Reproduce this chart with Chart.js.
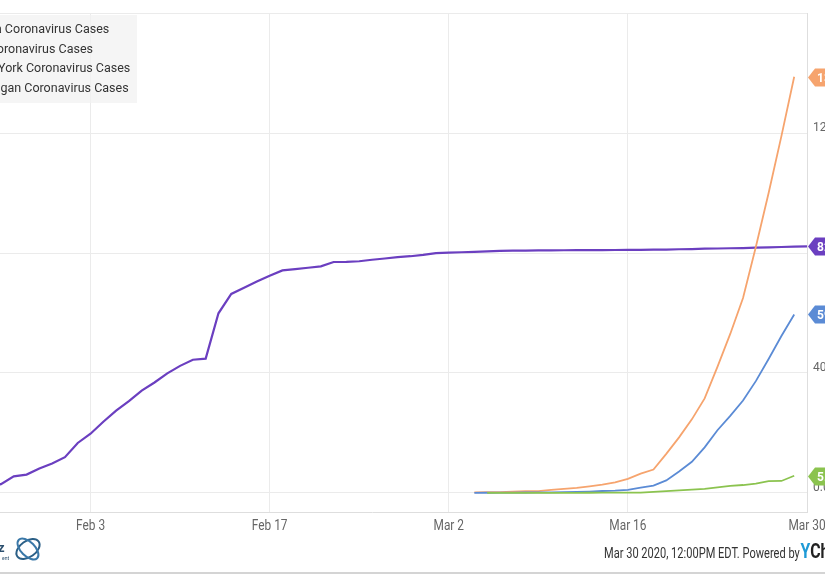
<!DOCTYPE html>
<html>
<head>
<meta charset="utf-8">
<script src="https://cdn.jsdelivr.net/npm/chart.js@4/dist/chart.umd.min.js"></script>
<style>
  html, body { margin: 0; padding: 0; background: #fff; }
  body { width: 825px; height: 575px; overflow: hidden; position: relative; font-family: Roboto, "Noto Sans", sans-serif; }
  #wrap { position: absolute; left: -73px; top: 0; width: 973px; height: 575px; }
  #legend { position: absolute; left: -45px; top: 15px; width: 182px; height: 88px; box-sizing: border-box;
    padding: 4px 0 0 15px; background: rgba(242,242,242,0.75); font-size: 12.5px; color: #333; }
  #legend div { height: 19.7px; line-height: 19.7px; white-space: nowrap; }
  #footer { position: absolute; left: 604px; top: 539px; font-family: Roboto, sans-serif;
    font-size: 14px; color: #333; white-space: nowrap; transform: scaleX(0.79); transform-origin: 0 0; }
  #footer .y { color: #1e9ad6; font-weight: bold; font-size: 20px; margin-left: 1px; }
  #footer .c { color: #222; font-weight: bold; font-size: 20px; }
  #bottomline { position: absolute; left: 0; top: 572px; width: 825px; height: 2px; background: #d4d4d4; }
  #logo { position: absolute; left: 0; top: 533px; }
</style>
</head>
<body>
<div id="wrap"><canvas id="casesChart"></canvas></div>
<div id="legend"></div>
<svg id="logo" width="50" height="34">
  <text x="-2" y="19" font-family="Roboto" font-size="13" font-weight="bold" fill="#2b4f6e">z</text>
  <text x="2" y="27" font-family="Roboto" font-size="5" fill="#2b4f6e">ent</text>
  <ellipse cx="28" cy="16" rx="13" ry="8" transform="rotate(-35 28 16)" fill="none" stroke="#2b5f86" stroke-width="2"/>
  <ellipse cx="28" cy="16" rx="13" ry="7" transform="rotate(45 28 16)" fill="none" stroke="#3a78a8" stroke-width="2"/>
</svg>
<div id="footer">Mar 30 2020, 12:00PM EDT. Powered by<span class="y">Y</span><span class="c">Charts</span></div>
<div id="bottomline"></div>
<script>
// dates on the x axis, Jan 22 to Mar 30 2020
const monthNames = ["Jan", "Feb", "Mar"];
const dates = [];
for (let d = new Date(2020, 0, 22); d <= new Date(2020, 2, 30); d.setDate(d.getDate() + 1)) {
  dates.push(monthNames[d.getMonth()] + " " + d.getDate());
}
const tickDates = ["Feb 3", "Feb 17", "Mar 2", "Mar 16", "Mar 30"];
const yTicks = [0, 40000, 80000, 120000, 160000];

const seriesNames = ["China Coronavirus Cases", "US Coronavirus Cases", "New York Coronavirus Cases", "Michigan Coronavirus Cases"];
const seriesColors = ["#6b3fc0", "#f6a46e", "#5b8bd5", "#8bc34f"];

// Jan 22 .. Mar 30
const chinaCases = [548, 643, 920, 1406, 2075, 2877, 5509, 6087, 8141, 9802,
  11891, 16630, 19716, 23707, 27440, 30587, 34110, 36814, 39829, 42354, 44386, 44759, 59895, 66358,
  68413, 70513, 72434, 74211, 74619, 75077, 75550, 77001, 77022, 77241, 77754, 78166, 78600, 78928, 79356,
  79932, 80136, 80261, 80386, 80537, 80690, 80770, 80823, 80860, 80887, 80921, 80932, 80945, 80977, 81003,
  81033, 81058, 81102, 81156, 81250, 81305, 81435, 81498, 81591, 81661, 81782, 81897, 81999, 82122, 82198];
// Mar 4 .. Mar 29
const usStart = "Mar 4";
const usCases = [149, 217, 262, 402, 518, 583, 959, 1281, 1663, 2179, 2726, 3499, 4632, 6421, 7783,
  13000, 18500, 24500, 31500, 42000, 53000, 65000, 82000, 100000, 119000, 138800];
// Mar 4 .. Mar 29
const nyStart = "Mar 4";
const nyCases = [11, 22, 44, 89, 106, 142, 173, 217, 326, 421, 610, 732, 950, 1700, 2382, 4152, 7102,
  10356, 15168, 20875, 25665, 30811, 37258, 44635, 52318, 59513];
// Mar 5 .. Mar 29
const miStart = "Mar 5";
const miCases = [0, 0, 0, 0, 0, 2, 2, 12, 25, 33, 53, 65, 83, 334, 549, 788, 1035, 1329, 1793, 2295,
  2600, 3100, 3900, 3950, 5700];

function pad(start, vals) {
  const s = dates.indexOf(start);
  return dates.map((d, i) => (i >= s && i - s < vals.length ? vals[i - s] : null));
}

const seriesData = [pad("Jan 22", chinaCases), pad(usStart, usCases), pad(nyStart, nyCases), pad(miStart, miCases)];

document.getElementById("legend").innerHTML = seriesNames.map((n) => "<div>" + n + "</div>").join("");

function fmtK(v) {
  if (v === 0) return "0.00";
  return (v / 1000).toFixed(2) + "K";
}

// narrow date labels under the x axis
const dateLabels = {
  id: "dateLabels",
  afterDraw(chart) {
    const ctx = chart.ctx;
    const xScale = chart.scales.x;
    ctx.save();
    ctx.fillStyle = "#666";
    ctx.font = "14px Roboto";
    ctx.textAlign = "center";
    ctx.textBaseline = "middle";
    tickDates.forEach((lab) => {
      const x = xScale.getPixelForValue(dates.indexOf(lab));
      ctx.save();
      ctx.translate(x, chart.chartArea.bottom + 14);
      ctx.scale(0.85, 1);
      ctx.fillText(lab, 0, 0);
      ctx.restore();
    });
    ctx.restore();
  }
};

// end value tags on the right axis
const endTags = {
  id: "endTags",
  afterDraw(chart) {
    const ctx = chart.ctx;
    const yScale = chart.scales.y;
    const x0 = chart.chartArea.right + 1;
    chart.data.datasets.forEach((ds) => {
      let last = null;
      ds.data.forEach((v) => { if (v !== null) last = v; });
      if (last === null) return;
      const y = Math.round(yScale.getPixelForValue(last)) + 0.5;
      ctx.save();
      ctx.fillStyle = ds.borderColor;
      ctx.beginPath();
      ctx.moveTo(x0, y);
      ctx.lineTo(x0 + 7, y - 9);
      ctx.lineTo(x0 + 62, y - 9);
      ctx.lineTo(x0 + 62, y + 9);
      ctx.lineTo(x0 + 7, y + 9);
      ctx.closePath();
      ctx.fill();
      ctx.fillStyle = "#fff";
      ctx.font = "bold 12px Roboto";
      ctx.textBaseline = "middle";
      ctx.fillText(fmtK(last), x0 + 9, y + 1);
      ctx.restore();
    });
  }
};

const ctx = document.getElementById("casesChart").getContext("2d");
const casesChart = new Chart(ctx, {
  type: "line",
  data: {
    labels: dates,
    datasets: seriesNames.map((name, i) => ({
      label: name,
      data: seriesData[i],
      borderColor: seriesColors[i],
      backgroundColor: seriesColors[i],
      borderWidth: i === 0 ? 2.2 : 1.8,
      pointRadius: 0,
      tension: 0,
      order: seriesNames.length - i,
    })),
  },
  options: {
    responsive: true,
    maintainAspectRatio: false,
    animation: false,
    layout: { padding: { left: 10, right: 0, top: 13, bottom: 23 } },
    plugins: { legend: { display: false }, tooltip: { enabled: false } },
    scales: {
      x: {
        type: "category",
        offset: false,
        afterFit: (scale) => { scale.height = 40; },
        border: { color: "#dedede" },
        grid: {
          drawTicks: false,
          color: (c) => (c.tick && tickDates.includes(dates[c.index]) ? "#ebebeb" : "rgba(0,0,0,0)"),
        },
        ticks: { display: false, autoSkip: false },
      },
      y: {
        position: "right",
        min: -6400,
        max: 160000,
        afterFit: (scale) => { scale.width = 93; },
        afterBuildTicks: (scale) => { scale.ticks = yTicks.map((v) => ({ value: v })); },
        border: { color: "#dedede" },
        grid: { drawTicks: false, color: "#ebebeb" },
        ticks: {
          padding: 6,
          labelOffset: -5,
          color: "#666",
          font: { family: "Roboto", size: 12 },
          callback: (v) => (v >= 160000 ? "" : fmtK(v)),
        },
      },
    },
  },
  plugins: [dateLabels, endTags],
});
</script>
</body>
</html>
